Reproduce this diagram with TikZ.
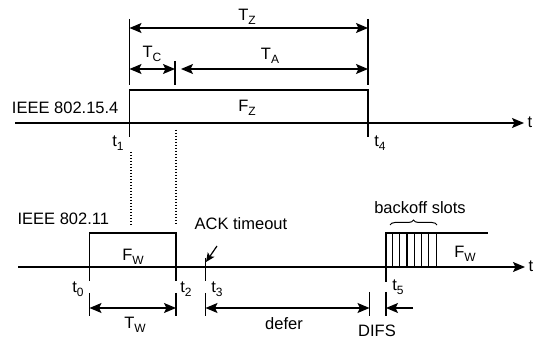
\documentclass[tikz,border=0pt]{standalone}
\usepackage{fontspec}
\setmainfont{Liberation Sans}
\usetikzlibrary{arrows.meta,decorations.pathreplacing}
\newcommand\lsub[1]{\raisebox{-0.45ex}{\fontsize{12}{12}\selectfont #1}}
\begin{document}
\begin{tikzpicture}[x=1pt,y=-1pt, line width=1.2pt,
  lbl/.style={inner sep=0pt, font=\fontsize{16.5}{18}\selectfont},
  tip/.tip={Stealth[length=12pt,width=10pt,inset=2.5pt]},
  arr/.style={-tip},
  darr/.style={tip-tip},
  dots/.style={dash pattern=on 1.5pt off 1.5pt},
  ]
\useasboundingbox (0,0) rectangle (541,344);
% ---------- top axis ----------
\coordinate (a1s) at (15,123); \coordinate (a1e) at (524,123);
\draw[arr] (a1s) -- (a1e);
\node[lbl, anchor=west] (tl1) at (527,122) {t};
\coordinate (t1top) at (129.5,19); \coordinate (t1a) at (129.5,85);
\coordinate (t1b) at (129.5,137);
\coordinate (t4top) at (368,19); \coordinate (t4a) at (368,85);
\coordinate (t4b) at (368,137);
\coordinate (fzl) at (129.5,90); \coordinate (fzr) at (368,90);
\draw (t1top) -- (t1a);
\draw (t4top) -- (t4a);
\draw (t1b) -- (fzl) -- (fzr) -- (t4b);
\node[lbl] (fz) at (247,108) {F\lsub{Z}};
\node[lbl, anchor=east] (ieee1) at (119,108) {IEEE 802.15.4};
\node[lbl] (t1l) at (118,143) {t\lsub{1}};
\node[lbl] (t4l) at (380,143) {t\lsub{4}};
% T_Z
\coordinate (tzl) at (129.5,28); \coordinate (tzr) at (368,28);
\draw[darr] (tzl) -- (tzr);
\node[lbl] (tz) at (247,17) {T\lsub{Z}};
% T_C and T_A
\coordinate (tcl) at (129.5,69); \coordinate (tcr) at (175,69);
\coordinate (tct) at (175,61); \coordinate (tcb) at (175,85);
\draw[darr] (tcl) -- (tcr);
\draw (tct) -- (tcb);
\node[lbl] (tc) at (152,54) {T\lsub{C}};
\coordinate (tal) at (181,69); \coordinate (tar) at (368,69);
\draw[darr] (tal) -- (tar);
\node[lbl] (ta) at (270,56) {T\lsub{A}};
% dotted guides
\coordinate (d1a) at (131,152); \coordinate (d1b) at (131,225);
\coordinate (d2a) at (176,130); \coordinate (d2b) at (176,224);
\draw[dots] (d1a) -- (d1b);
\draw[dots] (d2a) -- (d2b);
% ---------- bottom axis ----------
\coordinate (a2s) at (18,267); \coordinate (a2e) at (525,267);
\draw[arr] (a2s) -- (a2e);
\node[lbl, anchor=west] (tl2) at (528,266) {t};
\node[lbl, anchor=west] (ieee2) at (17,219) {IEEE 802.11};
% F_W frame
\coordinate (t0a) at (89.5,281); \coordinate (t0t) at (89.5,233);
\coordinate (t2a) at (176,281); \coordinate (t2t) at (176,233);
\draw (t0a) -- (t0t) -- (t2t) -- (t2a);
\node[lbl] (fw1) at (133,257) {F\lsub{W}};
\node[lbl] (t0l) at (78,289) {t\lsub{0}};
\node[lbl] (t2l) at (186,289) {t\lsub{2}};
\node[lbl] (t3l) at (217,289) {t\lsub{3}};
% ticks
\coordinate (k0a) at (89.5,293); \coordinate (k0b) at (89.5,316);
\coordinate (k2a) at (176,293); \coordinate (k2b) at (176,316);
\coordinate (k3a) at (205.5,293); \coordinate (k3b) at (205.5,316);
\coordinate (t3a) at (205.5,258); \coordinate (t3b) at (205.5,281);
\draw (k0a) -- (k0b); \draw (k2a) -- (k2b); \draw (k3a) -- (k3b);
\draw (t3a) -- (t3b);
% T_W
\coordinate (twl) at (89.5,308); \coordinate (twr) at (176,308);
\draw[darr] (twl) -- (twr);
\node[lbl] (tw) at (135,325) {T\lsub{W}};
% ACK timeout
\node[lbl, anchor=west] (ack) at (194,224) {ACK timeout};
\coordinate (acks) at (217,246); \coordinate (acke) at (206,262);
\draw[-{Stealth[length=9pt,width=8pt,inset=2pt]}] (acks) -- (acke);
% defer
\coordinate (dfl) at (205.5,308); \coordinate (dfr) at (369.5,308);
\draw[darr] (dfl) -- (dfr);
\node[lbl] (defer) at (284,324) {defer};
% DIFS
\coordinate (dfa) at (369.5,292); \coordinate (dfb) at (369.5,316);
\coordinate (dga) at (386,292); \coordinate (dgb) at (386,316);
\draw (dfa) -- (dfb); \draw (dga) -- (dgb);
\coordinate (difsr) at (413,308); \coordinate (difsl) at (386,308);
\draw[arr] (difsr) -- (difsl);
\node[lbl] (difs) at (377,331) {DIFS};
% backoff
\coordinate (t5a) at (386,282); \coordinate (t5t) at (386,233);
\coordinate (bke) at (488,233);
\draw (t5a) -- (t5t) -- (bke);
\foreach \i in {0,...,6} {
  \coordinate (s\i t) at (392.3+7.3*\i,233);
  \coordinate (s\i b) at (392.3+7.3*\i,267);
  \draw (s\i t) -- (s\i b);
}
\node[lbl] (t5l) at (398,287) {t\lsub{5}};
\node[lbl] (fw2) at (465,254) {F\lsub{W}};
\coordinate (brl) at (390,225); \coordinate (brr) at (437,225);
\draw[line width=1pt, decorate, decoration={brace, amplitude=5pt}] (brl) -- (brr);
\node[lbl] (bko) at (420,208) {backoff slots};
\end{tikzpicture}
\end{document}
